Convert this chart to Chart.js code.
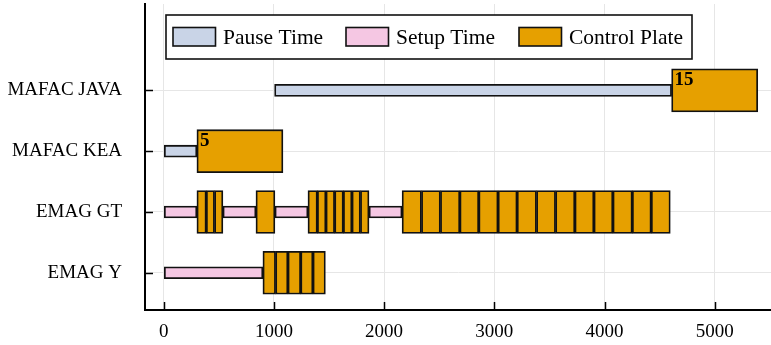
<!DOCTYPE html>
<html>
<head>
<meta charset="utf-8">
<script src="https://cdn.jsdelivr.net/npm/chart.js@4.4.1/dist/chart.umd.min.js"></script>
<style>
  html, body { margin: 0; padding: 0; background: #fff; }
  canvas { display: block; }
</style>
</head>
<body>
<canvas id="chart" width="771" height="345"></canvas>
<script>
// Production lines, bottom to top
const categories = ['EMAG Y', 'EMAG GT', 'MAFAC KEA', 'MAFAC JAVA'];
const xTicks = [0, 1000, 2000, 3000, 4000, 5000];
const seriesNames = ['Pause Time', 'Setup Time', 'Control Plate'];

// Pause spans
const pauseLine = ['MAFAC KEA', 'MAFAC JAVA'];
const pauseStart = [0, 1006];
const pauseEnd = [301, 4609];

// Setup spans
const setupLine = ['EMAG GT', 'EMAG GT', 'EMAG GT', 'EMAG GT', 'EMAG Y'];
const setupStart = [0, 537, 1009, 1863, 0];
const setupEnd = [301, 837, 1309, 2163, 900];

// Edges of consecutive control plates, one run per list
const emagGtPlateRuns = [
  [301, 386, 461, 537],
  [837, 1009],
  [1309, 1394, 1472, 1551, 1630, 1708, 1785, 1863],
  [2163, 2339, 2511, 2687, 2859, 3034, 3207, 3383, 3556, 3731, 3904, 4076, 4252, 4424, 4597]
];
const emagYPlateRuns = [
  [900, 1015, 1127, 1243, 1354, 1467]
];

// MAFAC lines: plates shown as a single block labelled with the plate count
const blockLine = ['MAFAC KEA', 'MAFAC JAVA'];
const blockStart = [301, 4609];
const blockEnd = [1082, 5391];
const blockCount = [5, 15];

const rowOf = name => categories.indexOf(name) + 1;

const pausePoints = pauseLine.map((c, i) => ({ y: rowOf(c), x: [pauseStart[i], pauseEnd[i]] }));
const setupPoints = setupLine.map((c, i) => ({ y: rowOf(c), x: [setupStart[i], setupEnd[i]] }));

const platePoints = [];
function addRuns(line, runs) {
  runs.forEach(edges => {
    for (let i = 0; i < edges.length - 1; i++) {
      platePoints.push({ y: rowOf(line), x: [edges[i], edges[i + 1]] });
    }
  });
}
addRuns('EMAG GT', emagGtPlateRuns);
addRuns('EMAG Y', emagYPlateRuns);
const blockFirstIndex = platePoints.length;
blockLine.forEach((c, i) => platePoints.push({ y: rowOf(c), x: [blockStart[i], blockEnd[i]] }));

const FILL = ['#c9d4e7', '#f5c7e3', '#e6a000'];
const SERIF = "'Liberation Serif', 'DejaVu Serif', serif";
const THIN = 12, TALL = 43;

Chart.defaults.font.family = SERIF;
Chart.defaults.color = '#000';

const barCommon = {
  borderColor: '#111',
  borderWidth: 1.8,
  borderSkipped: false,
  grouped: false
};

// Boxed legend drawn inside the plot area
const boxLegend = {
  id: 'boxLegend',
  afterDraw(chart) {
    const ctx = chart.ctx;
    ctx.save();
    ctx.fillStyle = '#fff';
    ctx.fillRect(166, 15, 526, 44);
    ctx.strokeStyle = '#111';
    ctx.lineWidth = 1.6;
    ctx.strokeRect(166, 15, 526, 44);
    const swatchX = [173, 346, 519];
    ctx.font = '21.5px ' + SERIF;
    ctx.textBaseline = 'middle';
    ctx.textAlign = 'left';
    chart.data.datasets.forEach((ds, i) => {
      ctx.fillStyle = ds.backgroundColor;
      ctx.fillRect(swatchX[i], 27.5, 42.5, 18.5);
      ctx.strokeStyle = '#111';
      ctx.lineWidth = 1.6;
      ctx.strokeRect(swatchX[i], 27.5, 42.5, 18.5);
      ctx.fillStyle = '#000';
      ctx.fillText(ds.label, swatchX[i] + 50, 38);
    });
    ctx.restore();
  }
};

// Inward tick marks on both axes, plus plate counts on the MAFAC blocks
const axisMarks = {
  id: 'axisMarks',
  afterDraw(chart) {
    const ctx = chart.ctx;
    const { left, bottom } = chart.chartArea;
    const xs = chart.scales.x, ys = chart.scales.y;
    ctx.save();
    ctx.strokeStyle = '#000';
    ctx.lineWidth = 1.5;
    ctx.beginPath();
    xTicks.forEach(v => {
      const px = Math.round(xs.getPixelForValue(v)) + 0.5;
      ctx.moveTo(px, bottom);
      ctx.lineTo(px, bottom - 8);
    });
    categories.forEach((c, i) => {
      const py = Math.round(ys.getPixelForValue(i + 1)) + 0.5;
      ctx.moveTo(left, py);
      ctx.lineTo(left + 8, py);
    });
    ctx.stroke();

    const meta = chart.getDatasetMeta(2);
    ctx.font = 'bold 19px ' + SERIF;
    ctx.fillStyle = '#000';
    ctx.textAlign = 'left';
    ctx.textBaseline = 'alphabetic';
    blockCount.forEach((n, i) => {
      const el = meta.data[blockFirstIndex + i];
      const x0 = Math.min(el.x, el.base);
      const top = el.y - el.height / 2;
      ctx.fillText(String(n), x0 + 3, top + 16.5);
    });
    ctx.restore();
  }
};

new Chart(document.getElementById('chart'), {
  type: 'bar',
  data: {
    datasets: [
      Object.assign({ label: seriesNames[0], data: pausePoints, backgroundColor: FILL[0], barThickness: THIN, order: 1 }, barCommon),
      Object.assign({ label: seriesNames[1], data: setupPoints, backgroundColor: FILL[1], barThickness: THIN, order: 2 }, barCommon),
      Object.assign({ label: seriesNames[2], data: platePoints, backgroundColor: FILL[2], barThickness: TALL, order: 0 }, barCommon)
    ]
  },
  options: {
    indexAxis: 'y',
    responsive: false,
    animation: false,
    events: [],
    layout: { autoPadding: false, padding: { top: 4, left: 0, right: 0, bottom: 0 } },
    plugins: { legend: { display: false }, title: { display: false }, tooltip: { enabled: false } },
    scales: {
      x: {
        type: 'linear',
        min: -170,
        max: 5511,
        offset: false,
        afterBuildTicks: s => { s.ticks = xTicks.map(v => ({ value: v })); },
        afterFit: s => { s.height = 35; s.paddingLeft = 0; s.paddingRight = 0; },
        grid: { color: '#e6e6e6', lineWidth: 1, drawTicks: false, offset: false },
        border: { color: '#000', width: 2 },
        ticks: { padding: 11, maxRotation: 0, autoSkip: false, font: { size: 19 }, color: '#000', callback: v => String(v) }
      },
      y: {
        type: 'linear',
        min: 0.388,
        max: 5.42,
        offset: false,
        afterBuildTicks: s => { s.ticks = categories.map((c, i) => ({ value: i + 1 })); },
        afterFit: s => { s.width = 145; s.paddingTop = 0; s.paddingBottom = 0; },
        grid: { color: '#e6e6e6', lineWidth: 1, drawTicks: false, offset: false },
        border: { color: '#000', width: 2 },
        ticks: { padding: 23, autoSkip: false, font: { size: 19 }, color: '#000', callback: v => categories[v - 1] || '' }
      }
    }
  },
  plugins: [boxLegend, axisMarks]
});
</script>
</body>
</html>
